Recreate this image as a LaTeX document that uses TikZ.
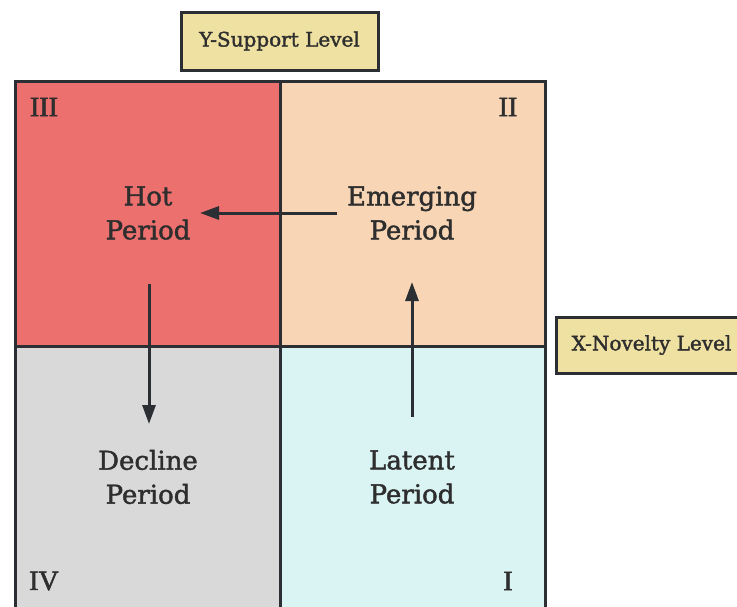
\documentclass[tikz,border=0pt]{standalone}
\usepackage{fontspec}
\setmainfont{DejaVu Serif}
\newfontfamily\medfont{DejaVu Serif}[FakeBold=1.6]
\newfontfamily\numfont{Liberation Serif}[FakeBold=2]
\usetikzlibrary{arrows.meta}
\definecolor{hotc}{HTML}{EC706E}
\definecolor{emc}{HTML}{F8D5B4}
\definecolor{dec}{HTML}{D9D9D9}
\definecolor{latc}{HTML}{DAF4F4}
\definecolor{labc}{HTML}{EFE1A1}
\definecolor{linec}{HTML}{2B2F33}
\definecolor{txtc}{HTML}{2E2E2E}
\tikzset{
  cell/.style={draw=linec, line width=3pt, minimum width=265pt, minimum height=265pt, inner sep=0pt},
  lab/.style={draw=linec, line width=3pt, fill=labc, inner sep=0pt, text=txtc, font=\medfont\fontsize{20}{24}\selectfont},
  phase/.style={align=center, text=txtc, font=\medfont\fontsize{26}{34}\selectfont, inner sep=0pt},
  roman/.style={text=txtc, font=\numfont\fontsize{28}{30}\selectfont, inner sep=0pt},
  flow/.style={draw=linec, line width=3pt, -{Triangle[length=19pt,width=13pt]}}
}
\begin{document}
\begin{tikzpicture}[x=1pt,y=-1pt]
\useasboundingbox (0,0) rectangle (737,606);
\fill[white] (0,0) rectangle (737,606);
% cells
\node[cell, fill=hotc] (q3) at (147.5,213.5) {};
\node[cell, fill=emc] (q2) at (412.5,213.5) {};
\node[cell, fill=dec] (q4) at (147.5,478.5) {};
\node[cell, fill=latc] (q1) at (412.5,478.5) {};
% axis labels
\node[lab, minimum width=197pt, minimum height=58pt] (ylab) at (279.5,41) {Y-Support Level};
\node[lab, minimum width=190pt, minimum height=56pt, anchor=west] (xlab) at (555,345) {X-Novelty Level};
% phase texts
\node[phase] (hot) at (148,213) {Hot\\Period};
\node[phase] (emerg) at (412,213) {Emerging\\Period};
\node[phase] (decl) at (148,477) {Decline\\Period};
\node[phase] (lat) at (412,477) {Latent\\Period};
% roman numerals
\node[roman] (r3) at (44,107) {III};
\node[roman] (r2) at (508,107) {II};
\node[roman] (r4) at (44,581) {IV};
\node[roman] (r1) at (508,581) {I};
% arrows
\coordinate (a1s) at (337,213);
\coordinate (a1e) at (200,213);
\coordinate (a2s) at (149,284);
\coordinate (a2e) at (149,424);
\coordinate (a3s) at (412,417);
\coordinate (a3e) at (412,282);
\draw[flow] (a1s) -- (a1e);
\draw[flow] (a2s) -- (a2e);
\draw[flow] (a3s) -- (a3e);
\end{tikzpicture}
\end{document}
